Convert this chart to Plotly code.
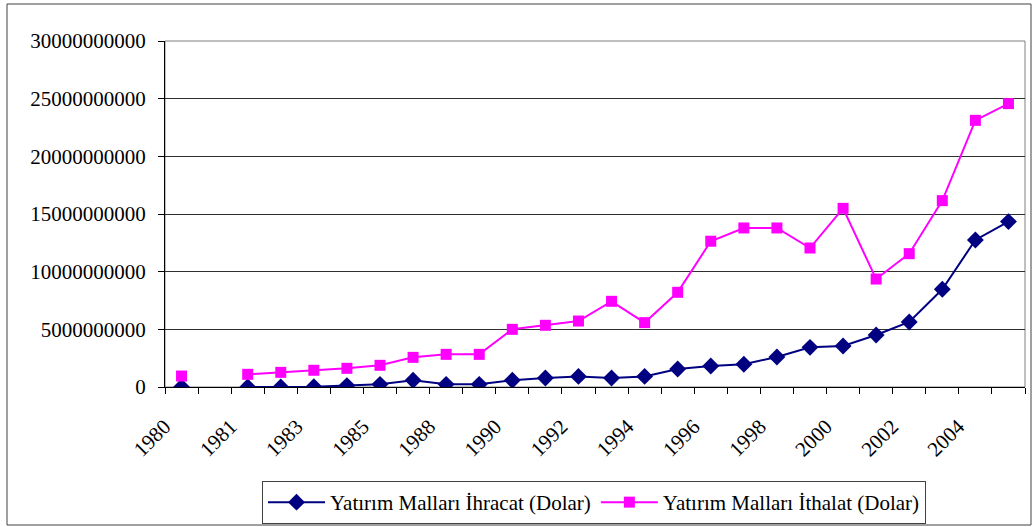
import plotly.graph_objects as go

categories = ["1980", "", "1981", "1982", "1983", "1984", "1985", "1987", "1988", "1989",
              "1990", "1991", "1992", "1993", "1994", "1995", "1996", "1997", "1998", "1999",
              "2000", "2001", "2002", "2003", "2004", "2005"]

ihracat = [0.00e9, None, 0.00e9, 0.00e9, 0.02e9, 0.12e9, 0.23e9, 0.58e9, 0.23e9, 0.23e9,
           0.58e9, 0.78e9, 0.92e9, 0.78e9, 0.92e9, 1.56e9, 1.82e9, 1.97e9, 2.60e9, 3.44e9,
           3.55e9, 4.51e9, 5.64e9, 8.47e9, 12.75e9, 14.34e9]

ithalat = [0.95e9, None, 1.10e9, 1.27e9, 1.45e9, 1.62e9, 1.88e9, 2.57e9, 2.83e9, 2.83e9,
           5.00e9, 5.35e9, 5.72e9, 7.43e9, 5.58e9, 8.21e9, 12.64e9, 13.79e9, 13.79e9, 12.05e9,
           15.49e9, 9.36e9, 11.56e9, 16.16e9, 23.12e9, 24.57e9]

series_names = ["Yatırım Malları İhracat (Dolar)", "Yatırım Malları İthalat (Dolar)"]
y_ticks = [0, 5000000000, 10000000000, 15000000000, 20000000000, 25000000000, 30000000000]

x_idx = list(range(len(categories)))
label_idx = x_idx[::2]
label_text = [categories[i] for i in label_idx]

FONT = "'Liberation Serif', 'Times New Roman', Times, 'DejaVu Serif', serif"

fig = go.Figure()
fig.add_trace(go.Scatter(
    x=x_idx, y=ihracat, name=series_names[0], mode="lines+markers",
    line=dict(color="#000080", width=2),
    marker=dict(symbol="diamond", size=13, color="#000080"),
    connectgaps=False,
))
fig.add_trace(go.Scatter(
    x=x_idx, y=ithalat, name=series_names[1], mode="lines+markers",
    line=dict(color="#FF00FF", width=2),
    marker=dict(symbol="square", size=11, color="#FF00FF"),
    connectgaps=False,
))

W, H = 1034, 527
ML, MR, MT, MB = 165, 9, 41, 140
PW, PH = W - ML - MR, H - MT - MB

fig.update_layout(
    width=W, height=H,
    margin=dict(l=ML, r=MR, t=MT, b=MB, pad=0, autoexpand=False),
    paper_bgcolor="white", plot_bgcolor="white",
    font=dict(family=FONT, size=21, color="black"),
    showlegend=True,
    legend=dict(
        orientation="h",
        xref="container", yref="container",
        x=594 / W, xanchor="center",
        y=1 - 481 / H, yanchor="top",
        bordercolor="#404040", borderwidth=1,
        font=dict(family=FONT, size=21, color="black"),
        itemwidth=57, tracegroupgap=0,
    ),
    xaxis=dict(
        range=[-0.5, len(categories) - 0.5],
        tickmode="array", tickvals=label_idx, ticktext=label_text,
        tickangle=-45, ticks="", showgrid=False, zeroline=False,
        showline=True, linecolor="black", linewidth=1,
        tickfont=dict(family=FONT, size=21, color="black"),
        ticklabelshift=-17, ticklabelstandoff=18,
        minor=dict(tickmode="linear", tick0=0.5, dtick=1, ticks="outside",
                   ticklen=6, tickcolor="black", tickwidth=1, showgrid=False),
    ),
    yaxis=dict(
        range=[0, 30000000000],
        tickmode="array", tickvals=y_ticks, ticktext=[str(v) for v in y_ticks],
        ticks="outside", ticklen=6, tickcolor="black",
        showgrid=True, gridcolor="#303030", gridwidth=1,
        zeroline=False, showline=True, linecolor="black", linewidth=1,
        tickfont=dict(family=FONT, size=21, color="black"),
        ticklabelstandoff=8,
    ),
)

# plot-area border (gray) and outer chart border
fig.add_shape(type="rect", xref="paper", yref="paper", x0=0, x1=1, y0=0, y1=1,
              line=dict(color="#808080", width=1), layer="below")
fig.add_shape(type="rect", xref="paper", yref="paper",
              x0=(7 - ML) / PW, x1=(1031 - ML) / PW,
              y0=(MT + PH - 525) / PH, y1=(MT + PH - 4) / PH,
              line=dict(color="#404040", width=1))

fig.write_html("out.html", config={"displayModeBar": False},
               post_script="document.body.style.margin='0';document.body.style.overflow='hidden';")
